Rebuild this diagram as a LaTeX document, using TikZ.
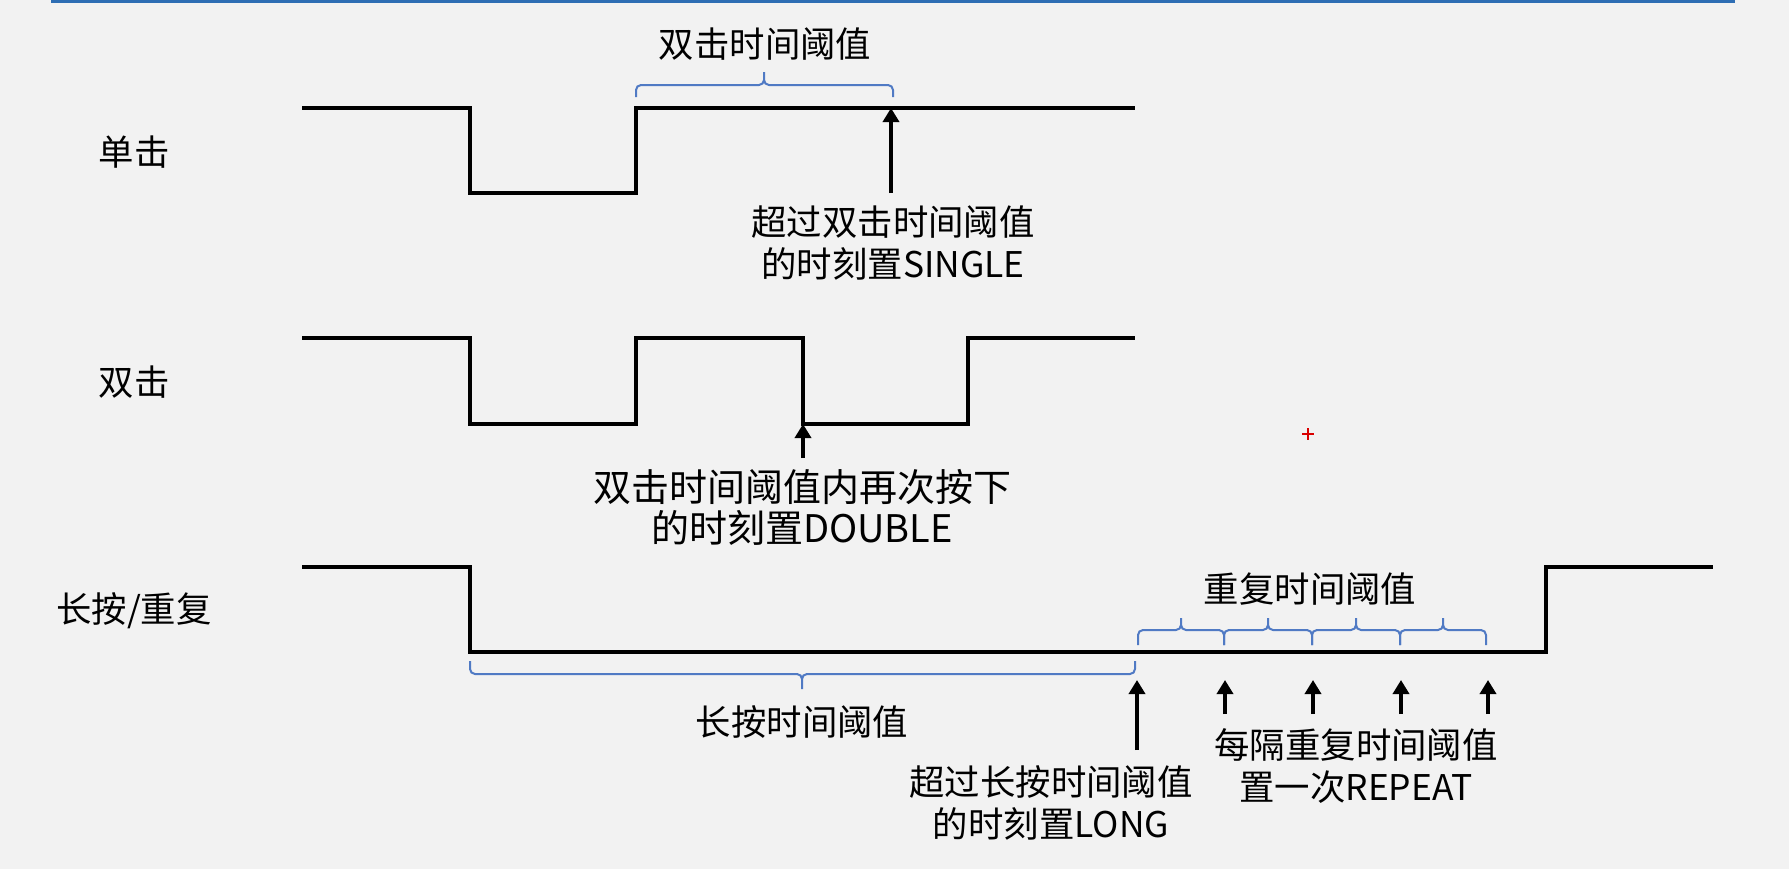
\documentclass[tikz,border=0pt]{standalone}
\usepackage{fontspec}
\setmainfont{Noto Sans CJK SC}
\usetikzlibrary{arrows.meta}
\definecolor{bggray}{RGB}{242,242,242}
\definecolor{brblue}{RGB}{80,122,196}
\definecolor{topblue}{RGB}{46,110,180}

\begin{document}
\begin{tikzpicture}[x=0.5pt,y=-0.5pt,>={Triangle[length=7pt,width=8pt]},
    every node/.style={align=center,inner sep=0pt,font=\fontsize{17.7}{21}\selectfont},
    wave/.style={line width=1.8pt},
    sigarrow/.style={->,line width=2pt},
    brline/.style={draw=brblue,line width=1pt,rounded corners=2.5pt},
    bigtext/.style={font=\fontsize{19}{20.5}\selectfont}]
    \fill[bggray] (0,0) rectangle (1789,869);
    \useasboundingbox (0,0) rectangle (1789,869);
    \draw[topblue,line width=1.6pt] (51,1.6) -- (1735,1.6);

    % row labels
    \node (lsingle) at (134,152) {单击};
    \node (ldouble) at (134,382) {双击};
    \node (llong) at (134,611) {长按/重复};

    % single click
    \draw[wave] (302,108) -- (470,108) -- (470,193) -- (636,193) -- (636,108) -- (1135,108);
    \draw[brline] (636,97) |- (764,85) -- (764,72) (764,72) -- (764,85) -| (893,97);
    \node (dblwin) at (765,44) {双击时间阈值};
    \coordinate (sglhit) at (891,108);
    \coordinate (sglfoot) at (891,193);
    \draw[sigarrow] (sglfoot) -- (sglhit);
    \node (sgltxt) at (893,243) {超过双击时间阈值\\的时刻置SINGLE};

    % double click
    \draw[wave] (302,338) -- (470,338) -- (470,424) -- (636,424) -- (636,338) -- (803,338)
        -- (803,424) -- (968,424) -- (968,338) -- (1135,338);
    \coordinate (dblhit) at (803,424);
    \coordinate (dblfoot) at (803,458);
    \draw[sigarrow] (dblfoot) -- (dblhit);
    \node[bigtext] (dbltxt) at (802,507) {双击时间阈值内再次按下\\的时刻置DOUBLE};

    % long press / repeat
    \draw[wave] (302,567) -- (470,567) -- (470,652) -- (1546,652) -- (1546,567) -- (1713,567);
    \draw[brline] (470,661) |- (802,674) -- (802,689) (802,689) -- (802,674) -| (1135,661);
    \node (longwin) at (802,722) {长按时间阈值};
    \coordinate (lnghit) at (1137,680);
    \coordinate (lngfoot) at (1137,750);
    \draw[sigarrow] (lngfoot) -- (lnghit);
    \node (lngtxt) at (1051,803) {超过长按时间阈值\\的时刻置LONG};

    \draw[brline] (1138,645) |- (1181,630) -- (1181,618) (1181,618) -- (1181,630) -| (1224,645);
    \draw[brline] (1224,645) |- (1268,630) -- (1268,618) (1268,618) -- (1268,630) -| (1312,645);
    \draw[brline] (1312,645) |- (1356,630) -- (1356,618) (1356,618) -- (1356,630) -| (1400,645);
    \draw[brline] (1400,645) |- (1443,630) -- (1443,618) (1443,618) -- (1443,630) -| (1486,645);
    \node (repwin) at (1310,589) {重复时间阈值};
    \coordinate (rephit1) at (1225,680);
    \coordinate (repfoot1) at (1225,714);
    \coordinate (rephit2) at (1313,680);
    \coordinate (repfoot2) at (1313,714);
    \coordinate (rephit3) at (1401,680);
    \coordinate (repfoot3) at (1401,714);
    \coordinate (rephit4) at (1488,680);
    \coordinate (repfoot4) at (1488,714);
    \draw[sigarrow] (repfoot1) -- (rephit1);
    \draw[sigarrow] (repfoot2) -- (rephit2);
    \draw[sigarrow] (repfoot3) -- (rephit3);
    \draw[sigarrow] (repfoot4) -- (rephit4);
    \node (reptxt) at (1356,766) {每隔重复时间阈值\\置一次REPEAT};

    % cursor mark
    \draw[red!85!black,line width=1pt] (1302,434) -- (1314,434) (1308,428) -- (1308,440);
\end{tikzpicture}
\end{document}
